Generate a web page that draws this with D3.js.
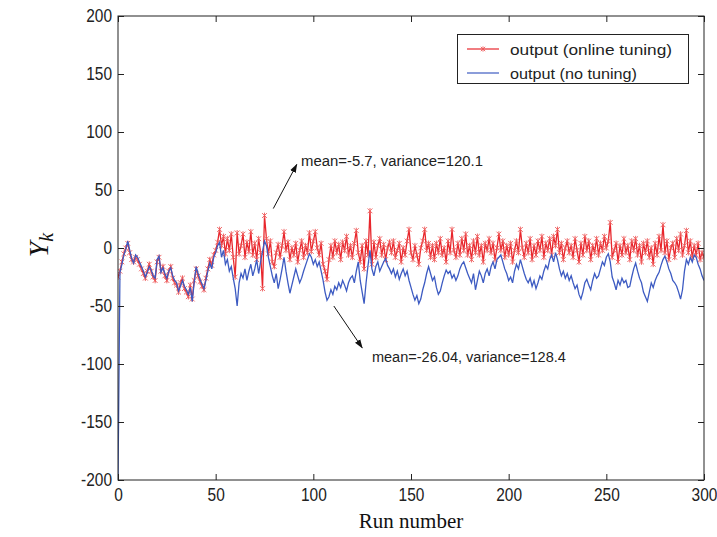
<!DOCTYPE html>
<html><head><meta charset="utf-8">
<script src="https://cdn.jsdelivr.net/npm/d3@7"></script>
<style>
html,body{margin:0;padding:0;background:#fff;}
svg{display:block;}
</style></head>
<body>
<svg id="chart" width="717" height="537"></svg>
<script>
// ---- data ----
const runs = d3.range(0, 301);
const noTuning = [
-200,-21,-14,-6,-1,6,-2,-9,-13,-6,
-8,-12,-16,-20,-25,-21,-16,-19,-24,-26,
-10,-7,-21,-17,-22,-26,-20,-17,-24,-28,
-30,-37,-33,-28,-33,-36,-40,-34,-46,-30,
-16,-22,-27,-31,-35,-28,-20,-13,-18,-8,
-4,2,5,-8,-2,-14,-10,-20,-16,-26,
-35,-50,-30,-22,-26,-18,-28,-20,-14,-24,
-18,-10,-22,-12,-3,6,2,-8,-16,-24,
-30,-22,-35,-27,-18,-8,-20,-30,-39,-32,
-25,-18,-24,-30,-26,-20,-15,-10,-5,-8,
-14,-10,-16,-12,-20,-28,-38,-45,-42,-36,
-40,-33,-36,-30,-34,-28,-32,-37,-30,-26,
-24,-30,-20,-12,-28,-38,-48,-30,-15,-2,
-18,-24,-16,-12,-20,-16,-12,-9,-15,-18,
-22,-18,-25,-20,-27,-22,-18,-24,-20,-28,
-34,-40,-45,-41,-48,-44,-36,-30,-22,-16,
-22,-28,-25,-34,-40,-37,-30,-24,-19,-22,
-20,-26,-23,-28,-24,-18,-14,-12,-17,-22,
-26,-30,-22,-36,-28,-20,-24,-30,-22,-18,
-24,-16,-12,-18,-10,-8,-6,-12,-18,-22,
-28,-25,-30,-20,-14,-18,-10,-16,-22,-27,
-30,-26,-33,-28,-35,-30,-24,-27,-20,-15,
-18,-10,-6,-12,-4,-10,-18,-24,-20,-26,
-22,-28,-24,-30,-35,-32,-40,-44,-38,-30,
-27,-32,-36,-28,-22,-26,-24,-18,-12,-15,
-8,-5,-12,-25,-30,-36,-28,-32,-26,-30,
-28,-34,-33,-25,-18,-13,-20,-26,-30,-38,
-42,-46,-38,-30,-34,-28,-24,-21,-15,-10,
-7,-12,-18,-22,-28,-30,-33,-38,-44,-36,
-20,-10,-14,-8,-12,-6,-8,-14,-18,-24,-28
];
const onlineTuning = [
-25,-20,-12,-5,0,4,-4,-10,-12,-8,
-10,-14,-18,-22,-26,-20,-14,-20,-25,-28,
-12,-8,-20,-16,-24,-28,-20,-16,-26,-30,
-32,-38,-30,-26,-35,-38,-42,-32,-44,-28,
-18,-24,-29,-33,-36,-26,-18,-10,-15,-6,
-2,5,16,2,10,-5,8,-2,12,-8,
-25,13,-5,2,12,-8,5,-3,14,-6,
4,-10,8,-4,-35,28,8,-5,6,-12,
-16,-4,3,-8,2,14,-2,5,-10,0,
-6,4,-12,-2,6,-8,2,-4,13,-3,
6,14,0,-6,4,-14,-20,-27,-10,2,
-8,6,-4,3,-10,5,-2,10,-6,2,
-8,4,15,-4,-12,2,-18,6,-6,32,
-14,5,-8,2,8,-6,3,-10,0,5,
-4,6,-8,-2,4,-12,0,-6,6,16,
-4,-10,2,-6,-14,0,6,16,-2,4,
-8,2,-10,4,-4,8,-6,0,-12,6,
-4,16,-2,-8,4,-6,8,-2,12,-6,
2,-10,6,-4,10,-6,2,-12,4,-2,
8,-4,4,-10,0,12,-2,6,-8,2,
-6,4,-12,-2,6,-4,16,0,-8,4,
-4,8,-10,2,-6,6,-2,10,-8,4,
-2,8,-6,10,2,16,-4,4,-10,0,
6,-4,2,-8,8,-2,-12,4,-6,10,
-2,6,-10,2,-4,8,-6,4,-2,10,
0,6,22,-8,-2,4,-12,2,-6,8,
-4,2,-10,6,-2,8,-6,2,-12,4,
-4,6,-8,0,-14,4,-6,10,-2,20,
-4,6,-10,0,4,-8,8,-2,12,-6,
2,15,-4,6,-8,2,-6,4,-10,-4,-8
];
const xTicks = [0, 50, 100, 150, 200, 250, 300];
const yTicks = [-200, -150, -100, -50, 0, 50, 100, 150, 200];
const legendLabels = ["output (online tuning)", "output (no tuning)"];
const notes = [
  {text: "mean=-5.7, variance=120.1", from: [79.5, 34], to: [91.5, 72], at: [93.7, 71], w: 182},
  {text: "mean=-26.04, variance=128.4", from: [110.5, -50], to: [125, -86], at: [130, -98], w: 194}
];

// ---- layout ----
const svg = d3.select("#chart");
const L = 118, R = 704, T = 16, B = 480;
const x = d3.scaleLinear().domain([0, 300]).range([L, R]);
const y = d3.scaleLinear().domain([-200, 200]).range([B, T]);
const red = "#e8262c", blue = "#3d5bc2", axisCol = "#222";

svg.append("defs").append("clipPath").attr("id", "clip")
  .append("rect").attr("x", L).attr("y", T).attr("width", R - L).attr("height", B - T);
svg.append("defs").append("marker").attr("id", "arr")
  .attr("viewBox", "0 0 10 10").attr("refX", 9).attr("refY", 5)
  .attr("markerWidth", 9).attr("markerHeight", 9).attr("orient", "auto")
  .append("path").attr("d", "M0,1.5 L10,5 L0,8.5 Z").attr("fill", "#111");

const plot = svg.append("g").attr("clip-path", "url(#clip)");
const line = d3.line().x((d, i) => x(runs[i])).y(d => y(d));

// red series
plot.append("path").datum(onlineTuning).attr("d", line)
  .attr("fill", "none").attr("stroke", red).attr("stroke-width", 1.3);
const star = s => `M${-s},${-s}L${s},${s}M${-s},${s}L${s},${-s}M0,${-s * 1.2}L0,${s * 1.2}`;
plot.append("g").selectAll("path").data(onlineTuning).join("path")
  .attr("transform", (d, i) => `translate(${x(runs[i])},${y(d)})`)
  .attr("d", star(2.4)).attr("stroke", "#ee5a5a").attr("stroke-width", 0.9).attr("fill", "none");
// blue series
plot.append("path").datum(noTuning).attr("d", line)
  .attr("fill", "none").attr("stroke", blue).attr("stroke-width", 1.3);

// axes
const fmt = d3.format("d");
function styleAxis(g) {
  g.select(".domain").remove();
  g.selectAll("line").attr("stroke", axisCol);
  g.selectAll("text").attr("fill", "#222").attr("font-family", "Liberation Sans, Arial, sans-serif")
    .attr("font-size", 18).attr("transform", "scale(0.86,1)");
}
svg.append("g").attr("transform", `translate(0,${B})`)
  .call(d3.axisBottom(x).tickValues(xTicks).tickFormat(fmt).tickSize(-6).tickPadding(8)).call(styleAxis);
svg.append("g").attr("transform", `translate(0,${T})`)
  .call(d3.axisTop(x).tickValues(xTicks).tickFormat("").tickSize(-6)).call(styleAxis);
svg.append("g").attr("transform", `translate(${L},0)`)
  .call(d3.axisLeft(y).tickValues(yTicks).tickFormat(d => fmt(d).replace("\u2212", "-")).tickSize(-6).tickPadding(7)).call(styleAxis);
svg.append("g").attr("transform", `translate(${R},0)`)
  .call(d3.axisRight(y).tickValues(yTicks).tickFormat("").tickSize(-6)).call(styleAxis);
svg.append("rect").attr("x", L).attr("y", T).attr("width", R - L).attr("height", B - T)
  .attr("fill", "none").attr("stroke", axisCol).attr("stroke-width", 1);

// axis titles
svg.append("text").attr("x", (L + R) / 2 + 0).attr("y", 528).attr("text-anchor", "middle")
  .attr("font-family", "Liberation Serif, Times New Roman, serif").attr("font-size", 21).attr("fill", "#111")
  .text("Run number");
const yl = svg.append("text").attr("transform", "translate(48,245) rotate(-90)").attr("text-anchor", "middle")
  .attr("font-family", "Liberation Serif, Times New Roman, serif").attr("font-style", "italic").attr("fill", "#111");
yl.append("tspan").attr("font-size", 28).text("Y");
yl.append("tspan").attr("font-size", 20).attr("dy", 5).text("k");

// legend
const lg = svg.append("g");
lg.append("rect").attr("x", 457.5).attr("y", 34.5).attr("width", 231).attr("height", 49)
  .attr("fill", "#fff").attr("stroke", "#222").attr("stroke-width", 1);
[red, blue].forEach((c, i) => {
  const yy = 49 + i * 24;
  lg.append("line").attr("x1", 467).attr("x2", 499).attr("y1", yy).attr("y2", yy)
    .attr("stroke", c).attr("stroke-width", 1.2);
  if (i === 0) lg.append("path").attr("transform", `translate(483,${yy})`).attr("d", star(2.2))
    .attr("stroke", "#ee5a5a").attr("stroke-width", 0.9);
  lg.append("text").attr("x", 510).attr("y", yy + 5.5)
    .attr("font-family", "Liberation Sans, Arial, sans-serif").attr("font-size", 15.5).attr("fill", "#222")
    .attr("textLength", i === 0 ? 162 : 127).attr("lengthAdjust", "spacingAndGlyphs")
    .text(legendLabels[i]);
});

// annotations
notes.forEach(n => {
  svg.append("line").attr("x1", x(n.from[0])).attr("y1", y(n.from[1]))
    .attr("x2", x(n.to[0])).attr("y2", y(n.to[1]))
    .attr("stroke", "#111").attr("stroke-width", 1).attr("marker-end", "url(#arr)");
  svg.append("text").attr("x", x(n.at[0])).attr("y", y(n.at[1]))
    .attr("font-family", "Liberation Sans, Arial, sans-serif").attr("font-size", 15.5).attr("fill", "#222")
    .attr("textLength", n.w).attr("lengthAdjust", "spacingAndGlyphs").text(n.text);
});
</script>
</body></html>
